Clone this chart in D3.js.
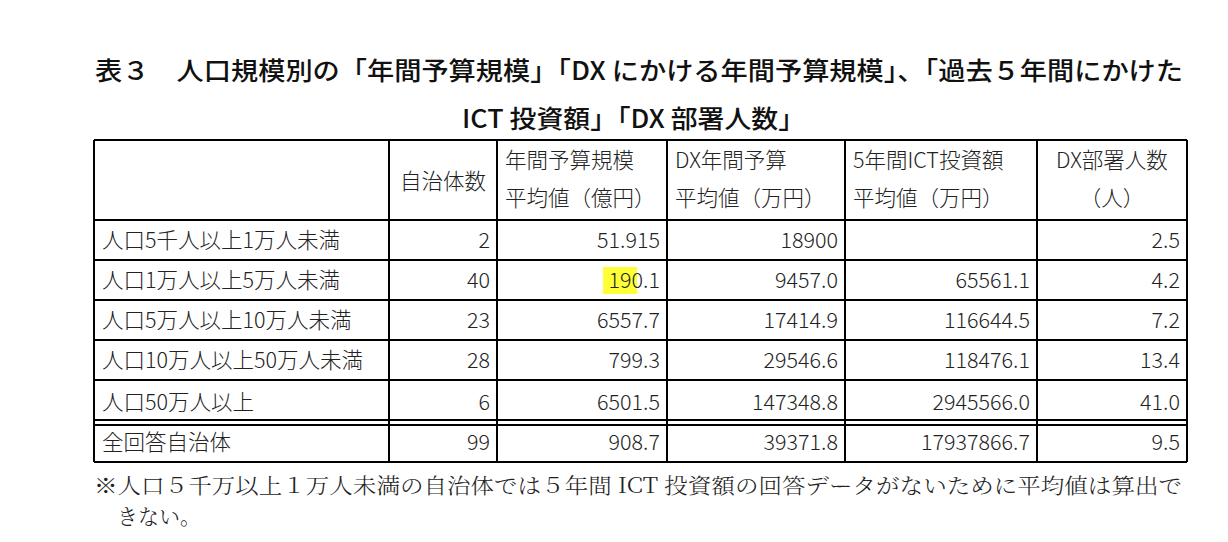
<!DOCTYPE html><html><head><meta charset="utf-8"><script src="https://cdn.jsdelivr.net/npm/d3@7"></script>
<style>body{margin:0;background:#fff}</style></head><body><svg id="c" width="1228" height="542"></svg>
<script>
const titleLines=["表３　人口規模別の「年間予算規模」「DX にかける年間予算規模」、「過去５年間にかけた","ICT 投資額」「DX 部署人数」"];
const headers=[["",""],["自治体数"],["年間予算規模","平均値（億円）"],["DX年間予算","平均値（万円）"],["5年間ICT投資額","平均値（万円）"],["DX部署人数","（人）"]];
const categories=["人口5千人以上1万人未満","人口1万人以上5万人未満","人口5万人以上10万人未満","人口10万人以上50万人未満","人口50万人以上","全回答自治体"];
const counts=["2","40","23","28","6","99"];
const budget=["51.915","190.1","6557.7","799.3","6501.5","908.7"];
const dxBudget=["18900","9457.0","17414.9","29546.6","147348.8","39371.8"];
const ict=["","65561.1","116644.5","118476.1","2945566.0","17937866.7"];
const staff=["2.5","4.2","7.2","13.4","41.0","9.5"];
const note=["※人口５千万以上１万人未満の自治体では５年間 ICT 投資額の回答データがないために平均値は算出で","きない。"];

const svg=d3.select("#c");const F="'Noto Sans CJK JP','Noto Sans',sans-serif";
svg.append("g").selectAll("text").data(titleLines).join("text").attr("x",(d,i)=>i?462:95).attr("y",(d,i)=>80+i*48)
 .attr("textLength",(d,i)=>i?343:1088).attr("lengthAdjust","spacingAndGlyphs")
 .attr("font-family",F).attr("font-size",25).attr("font-weight",500).attr("fill","#111").text(d=>d);
const colX=[94,389,497,667,845,1037,1187];
const rowY=[140,220,260,300,340,380,424,462];
const g=svg.append("g");
g.append("rect").attr("x",603).attr("y",267).attr("width",34).attr("height",27).attr("fill","#ffff38");
headers.forEach((h,i)=>{const cx=(colX[i]+colX[i+1])/2;
 if(h.length===1) g.append("text").attr("x",cx).attr("y",189).attr("text-anchor","middle").text(h[0]);
 else h.forEach((t,j)=>{if(t) g.append("text").attr("x",i===5?cx:colX[i]+8).attr("y",168+j*38).attr("text-anchor",i===5?"middle":"start").text(t);});});
const cols=[counts,budget,dxBudget,ict,staff];
categories.forEach((c,r)=>{const y=(rowY[r+1]+rowY[r+2])/2+8+(r===5?-1:0);
 g.append("text").attr("x",102).attr("y",y).text(c);
 cols.forEach((a,k)=>g.append("text").attr("x",colX[k+2]-7).attr("y",y).attr("text-anchor","end").text(a[r]));});
g.selectAll("text").attr("font-family",F).attr("font-size",21.5).attr("font-weight",300).attr("fill","#222");
const L=(x1,y1,x2,y2)=>g.append("line").attr("x1",x1).attr("y1",y1).attr("x2",x2).attr("y2",y2).attr("stroke","#000").attr("stroke-width",2);
rowY.forEach((y,i)=>{if(i===6){L(94,420,1187,420);L(94,425,1187,425);}else L(94,y,1187,y);});
colX.forEach(xx=>L(xx,140,xx,462));
svg.append("g").selectAll("text").data(note).join("text").attr("x",(d,i)=>i?117:94).attr("y",(d,i)=>493+i*31)
 .attr("textLength",(d,i)=>i?null:1088).attr("lengthAdjust","spacingAndGlyphs")
 .attr("font-family","'Noto Serif CJK JP','Noto Sans CJK JP',serif").attr("font-size",21).attr("font-weight",300).attr("fill","#222").text(d=>d);
</script></body></html>
